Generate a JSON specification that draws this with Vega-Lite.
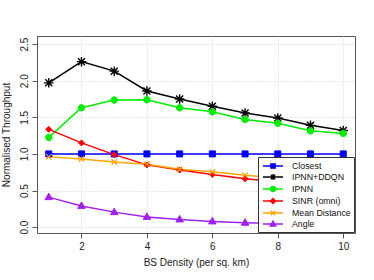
{
  "$schema": "https://vega.github.io/schema/vega-lite/v6.json",
  "width": 318,
  "height": 197,
  "autosize": {"type": "none"},
  "padding": {"left": 37, "top": 36, "right": 19, "bottom": 47},
  "background": "white",
  "config": {
    "view": {"stroke": "#555", "strokeWidth": 1},
    "font": "Liberation Sans",
    "axis": {
      "labelFont": "Liberation Sans", "titleFont": "Liberation Sans",
      "labelFontSize": 10, "titleFontSize": 10, "titleFontWeight": "normal",
      "labelColor": "#222", "titleColor": "#222",
      "domain": false, "tickColor": "#555", "tickSize": 5,
      "gridColor": "#d0d0d0", "gridDash": [1, 2], "gridWidth": 1
    }
  },
  "data": {"values": [
    {"x": 1, "series": "Closest", "y": 1.0},
    {"x": 2, "series": "Closest", "y": 1.0},
    {"x": 3, "series": "Closest", "y": 1.0},
    {"x": 4, "series": "Closest", "y": 1.0},
    {"x": 5, "series": "Closest", "y": 1.0},
    {"x": 6, "series": "Closest", "y": 1.0},
    {"x": 7, "series": "Closest", "y": 1.0},
    {"x": 8, "series": "Closest", "y": 1.0},
    {"x": 9, "series": "Closest", "y": 1.0},
    {"x": 10, "series": "Closest", "y": 1.0},
    {"x": 1, "series": "IPNN+DDQN", "y": 1.97},
    {"x": 2, "series": "IPNN+DDQN", "y": 2.26},
    {"x": 3, "series": "IPNN+DDQN", "y": 2.13},
    {"x": 4, "series": "IPNN+DDQN", "y": 1.86},
    {"x": 5, "series": "IPNN+DDQN", "y": 1.75},
    {"x": 6, "series": "IPNN+DDQN", "y": 1.65},
    {"x": 7, "series": "IPNN+DDQN", "y": 1.56},
    {"x": 8, "series": "IPNN+DDQN", "y": 1.49},
    {"x": 9, "series": "IPNN+DDQN", "y": 1.39},
    {"x": 10, "series": "IPNN+DDQN", "y": 1.32},
    {"x": 1, "series": "IPNN", "y": 1.225},
    {"x": 2, "series": "IPNN", "y": 1.63},
    {"x": 3, "series": "IPNN", "y": 1.735},
    {"x": 4, "series": "IPNN", "y": 1.74},
    {"x": 5, "series": "IPNN", "y": 1.63},
    {"x": 6, "series": "IPNN", "y": 1.575},
    {"x": 7, "series": "IPNN", "y": 1.47},
    {"x": 8, "series": "IPNN", "y": 1.42},
    {"x": 9, "series": "IPNN", "y": 1.315},
    {"x": 10, "series": "IPNN", "y": 1.28},
    {"x": 1, "series": "SINR (omni)", "y": 1.335},
    {"x": 2, "series": "SINR (omni)", "y": 1.15},
    {"x": 3, "series": "SINR (omni)", "y": 0.99},
    {"x": 4, "series": "SINR (omni)", "y": 0.85},
    {"x": 5, "series": "SINR (omni)", "y": 0.78},
    {"x": 6, "series": "SINR (omni)", "y": 0.72},
    {"x": 7, "series": "SINR (omni)", "y": 0.66},
    {"x": 8, "series": "SINR (omni)", "y": 0.62},
    {"x": 9, "series": "SINR (omni)", "y": 0.59},
    {"x": 10, "series": "SINR (omni)", "y": 0.56},
    {"x": 1, "series": "Mean Distance", "y": 0.96},
    {"x": 2, "series": "Mean Distance", "y": 0.93},
    {"x": 3, "series": "Mean Distance", "y": 0.89},
    {"x": 4, "series": "Mean Distance", "y": 0.86},
    {"x": 5, "series": "Mean Distance", "y": 0.79},
    {"x": 6, "series": "Mean Distance", "y": 0.755},
    {"x": 7, "series": "Mean Distance", "y": 0.71},
    {"x": 8, "series": "Mean Distance", "y": 0.67},
    {"x": 9, "series": "Mean Distance", "y": 0.64},
    {"x": 10, "series": "Mean Distance", "y": 0.61},
    {"x": 1, "series": "Angle", "y": 0.41},
    {"x": 2, "series": "Angle", "y": 0.29},
    {"x": 3, "series": "Angle", "y": 0.205},
    {"x": 4, "series": "Angle", "y": 0.14},
    {"x": 5, "series": "Angle", "y": 0.105},
    {"x": 6, "series": "Angle", "y": 0.078},
    {"x": 7, "series": "Angle", "y": 0.06},
    {"x": 8, "series": "Angle", "y": 0.05},
    {"x": 9, "series": "Angle", "y": 0.04},
    {"x": 10, "series": "Angle", "y": 0.035}
  ]},
  "encoding": {
    "x": {"field": "x", "type": "quantitative",
      "scale": {"domain": [0.64, 10.36], "nice": false, "zero": false},
      "axis": {"values": [2, 4, 6, 8, 10], "title": "BS Density (per sq. km)", "titlePadding": 6, "labelPadding": 3}},
    "y": {"field": "y", "type": "quantitative",
      "scale": {"domain": [-0.08, 2.61], "nice": false, "zero": false},
      "axis": {"values": [0, 0.5, 1, 1.5, 2, 2.5], "format": ".1f", "labelAngle": 270, "labelAlign": "center", "labelBaseline": "bottom", "labelPadding": 3, "title": "Normalised Throughput", "titlePadding": 8}}
  },
  "layer": [
    {
      "mark": {"type": "line", "strokeWidth": 1.5},
      "encoding": {
        "color": {"field": "series", "type": "nominal",
          "scale": {"domain": ["Closest", "IPNN+DDQN", "IPNN", "SINR (omni)", "Mean Distance", "Angle"],
                    "range": ["#0000ff", "#000000", "#00ee00", "#ff0000", "#ffa500", "#a020f0"]},
          "legend": {
            "title": null, "orient": "bottom-right", "offset": 1,
            "labelFont": "Liberation Sans", "labelFontSize": 8.8, "labelColor": "#111",
            "padding": 3, "strokeColor": "#333", "fillColor": "white",
            "symbolSize": 100, "symbolStrokeWidth": 1.3, "symbolOffset": 6, "labelOffset": 13, "rowPadding": 0,
            "encoding": {
              "symbols": {
                "shape": {"value": {"expr": "datum.value === 'Closest' ? 'M-2,0H2M-0.44,-0.44H0.44V0.44H-0.44Z' : datum.value === 'IPNN+DDQN' ? 'M-2,0H2M-0.6,0H0.6M0,-0.6V0.6M-0.44,-0.44L0.44,0.44M-0.44,0.44L0.44,-0.44' : datum.value === 'IPNN' ? 'M-2,0H2M-0.5,0A0.5,0.5,0,1,1,0.5,0A0.5,0.5,0,1,1,-0.5,0Z' : datum.value === 'SINR (omni)' ? 'M-2,0H2M0,-0.5L0.5,0L0,0.5L-0.5,0Z' : datum.value === 'Mean Distance' ? 'M-2,0H2M-0.44,-0.44L0.44,0.44M-0.44,0.44L0.44,-0.44' : 'M-2,0H2M0,-0.6L0.56,0.4L-0.56,0.4Z'"}},
                "fill": {"value": {"expr": "scale('color', datum.value)"}},
                "stroke": {"value": {"expr": "scale('color', datum.value)"}},
                "strokeWidth": {"value": 1.3}
              }
            }
          }}
      }
    },
    {
      "transform": [{"filter": "datum.series === 'Closest'"}],
      "mark": {"type": "point", "size": 100, "opacity": 1, "filled": true, "color": "#0000ff", "stroke": "#0000ff", "strokeWidth": 1, "shape": "M-0.6,-0.6H0.6V0.6H-0.6Z"}
    },
    {
      "transform": [{"filter": "datum.series === 'IPNN+DDQN'"}],
      "mark": {"type": "point", "size": 100, "opacity": 1, "filled": false, "color": "#000000", "strokeWidth": 1.4, "shape": "M-0.95,0H0.95M0,-0.95V0.95M-0.7,-0.7L0.7,0.7M-0.7,0.7L0.7,-0.7"}
    },
    {
      "transform": [{"filter": "datum.series === 'IPNN'"}],
      "mark": {"type": "point", "size": 100, "opacity": 1, "filled": true, "color": "#00ee00", "stroke": "#00ee00", "strokeWidth": 1, "shape": "M-0.65,0A0.65,0.65,0,1,1,0.65,0A0.65,0.65,0,1,1,-0.65,0Z"}
    },
    {
      "transform": [{"filter": "datum.series === 'SINR (omni)'"}],
      "mark": {"type": "point", "size": 100, "opacity": 1, "filled": true, "color": "#ff0000", "stroke": "#ff0000", "strokeWidth": 1, "shape": "M0,-0.6L0.6,0L0,0.6L-0.6,0Z"}
    },
    {
      "transform": [{"filter": "datum.series === 'Mean Distance'"}],
      "mark": {"type": "point", "size": 100, "opacity": 1, "filled": false, "color": "#ffa500", "strokeWidth": 1.2, "shape": "M-0.55,-0.55L0.55,0.55M-0.55,0.55L0.55,-0.55"}
    },
    {
      "transform": [{"filter": "datum.series === 'Angle'"}],
      "mark": {"type": "point", "size": 100, "opacity": 1, "filled": true, "color": "#a020f0", "stroke": "#a020f0", "strokeWidth": 1, "shape": "M0,-0.8L0.75,0.5L-0.75,0.5Z"}
    }
  ]
}
